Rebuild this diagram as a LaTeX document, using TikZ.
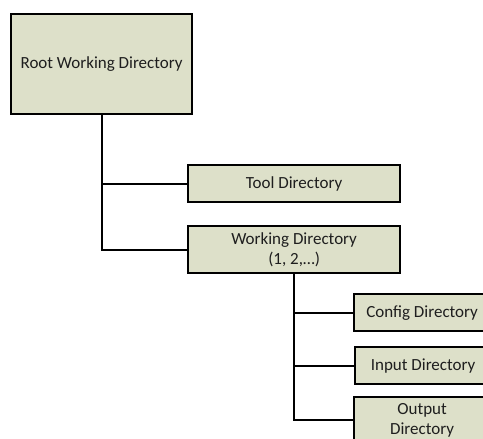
\documentclass[tikz,border=0pt]{standalone}
\usepackage{fontspec}
\setmainfont{Carlito}
\usepackage{xcolor}
\usepackage{tikz}

\definecolor{dirfill}{RGB}{221,224,201}
\definecolor{dirtext}{RGB}{30,30,30}

\tikzset{
    dirbox/.style={draw, fill=dirfill, line width=2.2pt, inner sep=0pt, align=center,
        anchor=north west, text=dirtext, font=\fontsize{17}{20}\selectfont},
    link/.style={line width=2.2pt}
}

\begin{document}
\begin{tikzpicture}[x=1pt, y=-1pt]
        \useasboundingbox (0,0) rectangle (483,439);
        \clip (0,0) rectangle (483,439);
        % Directorio raiz
        \node[dirbox, minimum width=181pt, minimum height=100pt] (root) at (10,13) {Root Working Directory};
        % Segundo nivel
        \node[dirbox, minimum width=212pt, minimum height=37pt] (tool) at (187,164) {Tool Directory};
        \node[dirbox, minimum width=212pt, minimum height=47pt] (work) at (187,225) {Working Directory\\(1, 2,…)};
        % Tercer nivel
        \node[dirbox, minimum width=136pt, minimum height=37pt] (config) at (353,293) {Config Directory};
        \node[dirbox, minimum width=136pt, minimum height=37pt] (input) at (354,346) {Input Directory};
        \node[dirbox, minimum width=136pt, minimum height=46pt] (output) at (353,396) {Output\\Directory};
        % Conectores
        \draw[link] (root.south) -- (root.south |- work.west) -- (work.west);
        \draw[link] (root.south |- tool.west) -- (tool.west);
        \draw[link] (work.south) -- (work.south |- output.west) -- (output.west);
        \draw[link] (work.south |- config.west) -- (config.west);
        \draw[link] (work.south |- input.west) -- (input.west);
    \end{tikzpicture}
\end{document}
